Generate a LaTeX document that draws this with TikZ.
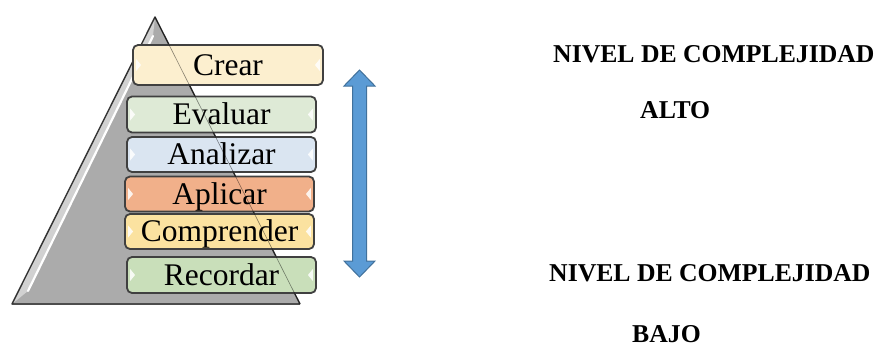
\documentclass[tikz,border=0pt]{standalone}
\usepackage{fontspec}
\setmainfont{Liberation Serif}
\begin{document}
\begin{tikzpicture}[x=1pt,y=-1pt,
  level/.style={draw=black!75, line width=1.8pt, rounded corners=5pt,
    inner sep=0pt, text height=20.5pt, text depth=0pt,
    font=\fontsize{31.5}{34}\selectfont},
  bevel/.style={fill=white, fill opacity=0.85},
  side/.style={font=\bfseries\fontsize{25.7}{30}\selectfont, inner sep=0pt, anchor=base west}]
\useasboundingbox (0,0) rectangle (887,349);
\definecolor{cCrear}{HTML}{FCEFCF}
\definecolor{cEval}{HTML}{DEEAD6}
\definecolor{cAnal}{HTML}{DAE5F1}
\definecolor{cApli}{HTML}{F1B08A}
\definecolor{cComp}{HTML}{FBE2A0}
\definecolor{cReco}{HTML}{C9DFBA}
\definecolor{tri}{HTML}{ABABAB}
\definecolor{arrowfill}{HTML}{5B9BD5}
\definecolor{arrowline}{HTML}{41719C}

% pyramid
\coordinate (apex) at (155,17);
\coordinate (bl) at (12,304);
\coordinate (br) at (300,304);
\fill[tri] (apex) -- (bl) -- (br) -- cycle;
\fill[black!18] (apex) -- (bl) -- (28,291) -- (153,36) -- cycle;
\draw[white, line width=2.2pt, line cap=round] (28,291) -- (153,36);
\draw[black!50, line width=2.5pt] (bl) -- (br);
\draw[black!80, line width=1.4pt, line join=round] (br) -- (apex) -- (bl) -- (br);

% levels
\node[level, fill=cCrear, minimum width=190pt, minimum height=40pt] (crear) at (228,65) {Crear};
\node[level, fill=cEval, minimum width=189pt, minimum height=36pt] (evaluar) at (221.5,114.5) {Evaluar};
\node[level, fill=cAnal, minimum width=189pt, minimum height=35pt] (analizar) at (221.5,154.5) {Analizar};
\node[level, fill=cApli, minimum width=189pt, minimum height=35pt] (aplicar) at (219.5,194) {Aplicar};
\node[level, fill=cComp, minimum width=189pt, minimum height=35pt] (comprender) at (219.5,231.5) {Comprender};
\node[level, fill=cReco, minimum width=189pt, minimum height=36pt] (recordar) at (221.5,275) {Recordar};

\foreach \b in {crear,evaluar,analizar,aplicar,comprender,recordar}{
  \fill[bevel] ([xshift=4pt,yshift=6pt]\b.west) -- ++(5,6) -- ++(-5,6) -- cycle;
  \fill[bevel] ([xshift=-4pt,yshift=6pt]\b.east) -- ++(-5,6) -- ++(5,6) -- cycle;
}

% right edge of the pyramid seen through the levels
\draw[black, opacity=0.45, line width=0.6pt] (apex) -- (br);

% double arrow
\filldraw[fill=arrowfill, draw=arrowline, line width=1pt, line join=miter]
  (359.5,70) -- (375,86) -- (366.5,86) -- (366.5,261) -- (375,261) -- (359.5,277)
  -- (344,261) -- (352.5,261) -- (352.5,86) -- (344,86) -- cycle;

% labels
\node[side] (nivelalto) at (553,62) {NIVEL DE COMPLEJIDAD};
\node[side] (alto) at (640,118) {ALTO};
\node[side] (nivelbajo) at (549,281) {NIVEL DE COMPLEJIDAD};
\node[side] (bajo) at (632,342) {BAJO};
\end{tikzpicture}
\end{document}
